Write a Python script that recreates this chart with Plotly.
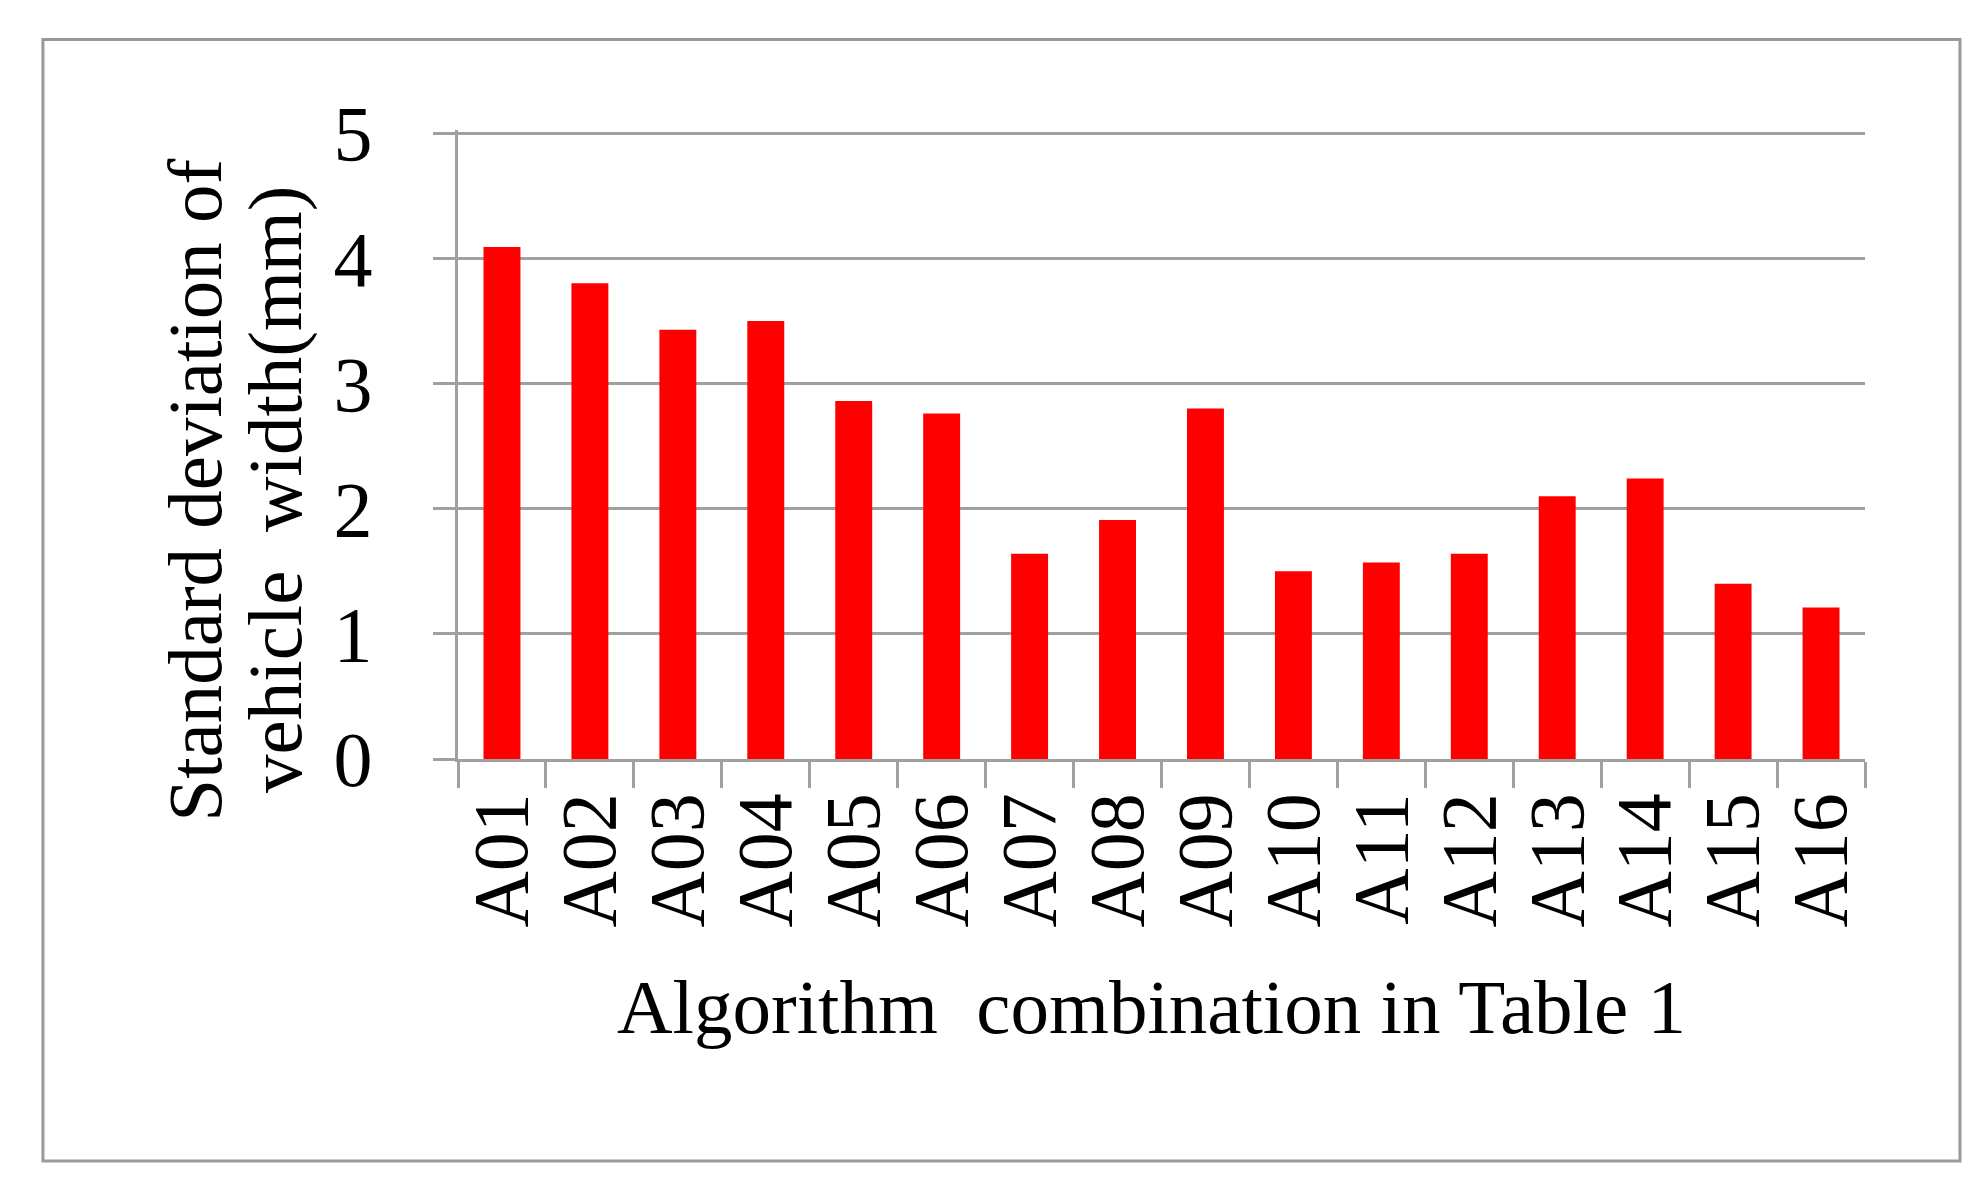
import plotly.graph_objs as go

combos = ["A01", "A02", "A03", "A04", "A05", "A06", "A07", "A08",
          "A09", "A10", "A11", "A12", "A13", "A14", "A15", "A16"]
std_width = [4.09, 3.80, 3.43, 3.50, 2.86, 2.76, 1.64, 1.91,
             2.80, 1.50, 1.57, 1.64, 2.10, 2.24, 1.40, 1.21]
y_ticks = [0, 1, 2, 3, 4, 5]

font_name = "Liberation Serif"
grey = "#a0a0a0"

trace = go.Bar(x=combos, y=std_width, marker=dict(color="#ff0000", line=dict(width=0)))

# a little headroom above 5 so plotly keeps the top gridline
layout = go.Layout(
    width=1977, height=1192,
    margin=dict(l=450, r=120, t=122, b=441),
    paper_bgcolor="white", plot_bgcolor="white",
    font=dict(family=font_name, size=78, color="black"),
    showlegend=False,
    bargap=0.58,
    xaxis=dict(
        type="category", tickangle=-90,
        tickmode="array", tickvals=combos, ticktext=combos,
        ticks="outside", tickson="boundaries", ticklen=26, tickwidth=3, tickcolor=grey,
        showline=True, linecolor=grey, linewidth=3,
        showgrid=False, ticklabelstandoff=0,
        tickfont=dict(size=78),
    ),
    yaxis=dict(
        range=[0, 5.025], tickvals=y_ticks,
        ticks="outside", ticklen=22, tickwidth=3, tickcolor=grey,
        showline=True, linecolor=grey, linewidth=3,
        showgrid=True, gridcolor=grey, gridwidth=3,
        zeroline=False, ticklabelstandoff=45,
        tickfont=dict(size=78),
    ),
    annotations=[
        dict(text="Algorithm  combination in Table 1", xref="paper", yref="paper",
             x=0.493, y=-0.394, xanchor="center", yanchor="middle", showarrow=False,
             font=dict(size=77)),
        dict(text="Standard deviation of", xref="paper", yref="paper",
             x=-0.187, y=0.428, xanchor="center", yanchor="middle", showarrow=False,
             textangle=-90, font=dict(size=77)),
        dict(text="vehicle  width(mm)", xref="paper", yref="paper",
             x=-0.13, y=0.428, xanchor="center", yanchor="middle", showarrow=False,
             textangle=-90, font=dict(size=77)),
    ],
    shapes=[
        dict(type="rect", xref="paper", yref="paper",
             x0=-0.295, x1=1.0675, y0=-0.639, y1=1.1438,
             line=dict(color="#999999", width=3)),
    ],
)

fig = go.Figure(data=[trace], layout=layout)
fig.write_html("out.html")
